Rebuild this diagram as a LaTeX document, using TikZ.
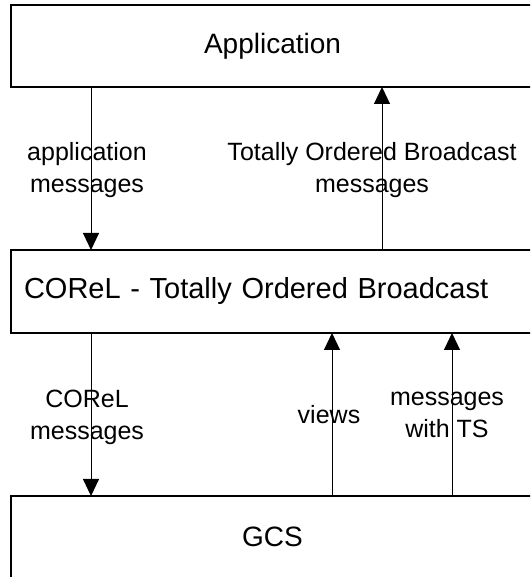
\documentclass[tikz,border=0pt]{standalone}
\usepackage{fontspec}
\setmainfont{Liberation Sans}
\usetikzlibrary{arrows.meta, positioning}

\begin{document}
\begin{tikzpicture}[
    x=1pt, y=1pt,
    node distance = 163pt,
    layer/.style = {rectangle, draw, line width=2pt, outer sep=0pt,
                    minimum width=523pt, minimum height=82pt,
                    font=\fontsize{28}{34}\selectfont},
    lbl/.style = {align=center, inner sep=0pt, font=\fontsize{25}{32}\selectfont},
    arrow/.style = {-{Triangle[length=17pt, width=16pt]}, line width=1pt}
  ]
    \path[use as bounding box, clip] (0,0) rectangle (530,577);

    % Layers
    \node[layer] (app) at (272.5,531) {Application};
    \node[layer, below=of app, text width=497pt, inner xsep=13pt, align=left,
          minimum height=83pt, font=\fontsize{29}{34}\selectfont] (corel)
          {COReL - Totally Ordered Broadcast};
    \node[layer, below=of corel] (gcs) {GCS};

    % Arrows
    \draw[arrow] ([xshift=80pt]app.south west) -- ([xshift=80pt]corel.north west);
    \draw[arrow] ([xshift=371pt]corel.north west) -- ([xshift=371pt]app.south west);
    \draw[arrow] ([xshift=80pt]corel.south west) -- ([xshift=80pt]gcs.north west);
    \draw[arrow] ([xshift=321pt]gcs.north west) -- ([xshift=321pt]corel.south west);
    \draw[arrow] ([xshift=441pt]gcs.north west) -- ([xshift=441pt]corel.south west);

    % Labels
    \node[lbl] (appmsg) at (87,407) {application\\messages};
    \node[lbl] (tobmsg) at (372,407) {Totally Ordered Broadcast\\messages};
    \node[lbl] (corelmsg) at (87,160) {COReL\\messages};
    \node[lbl] (views) at (329,162) {views};
    \node[lbl] (tsmsg) at (447,162) {messages\\with TS};

  \end{tikzpicture}
\end{document}
